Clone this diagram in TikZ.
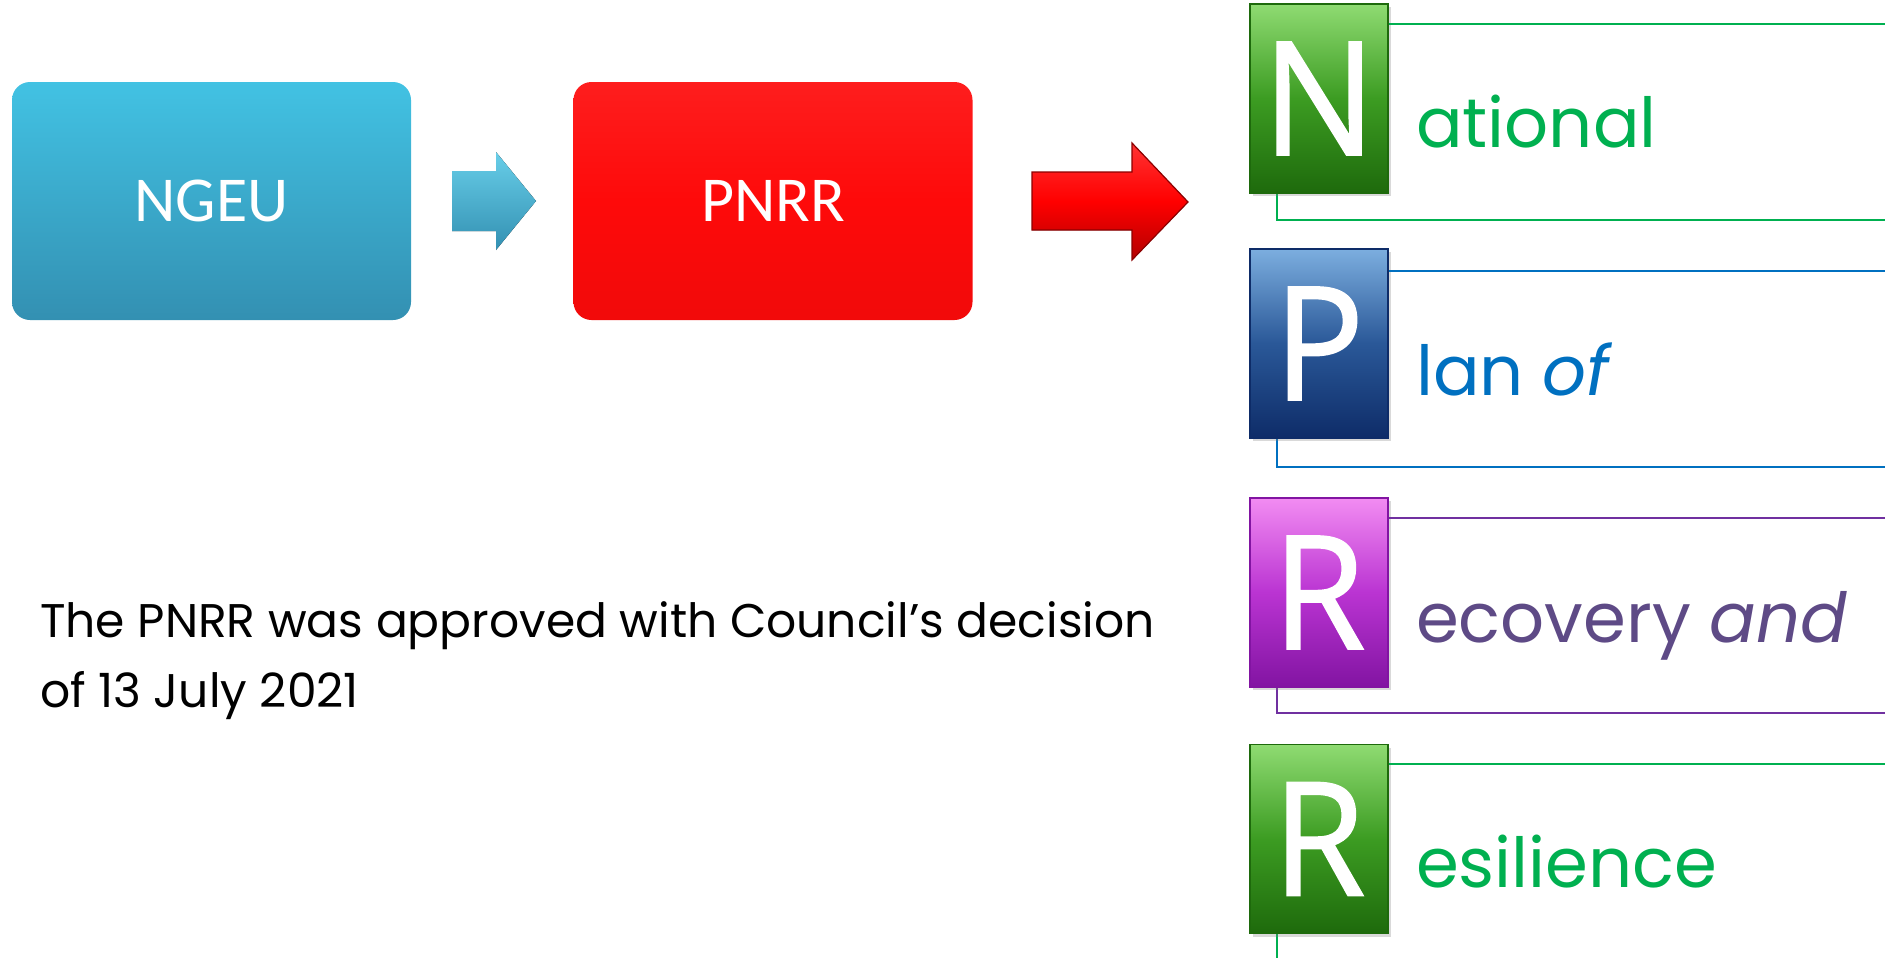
\documentclass[tikz,border=0pt]{standalone}
\usepackage{fontspec}
\usepackage{graphicx}
\setmainfont{Poppins}
\newfontfamily\calib{Carlito}
\newfontfamily\tilefont{Open Sans}[FakeBold=1.2]
\usetikzlibrary{positioning,shadows}

\definecolor{natgreen}{HTML}{00B050}
\definecolor{planblue}{HTML}{0070C0}
\definecolor{recpurple}{HTML}{7030A0}
\definecolor{recword}{HTML}{5E4A86}
\definecolor{ngeutop}{HTML}{42C2E3}
\definecolor{ngeubot}{HTML}{3390B2}
\definecolor{pnrrred}{HTML}{FE0A0A}
\definecolor{gtop}{HTML}{8FDB72}
\definecolor{gmid}{HTML}{3C9C22}
\definecolor{gbot}{HTML}{1E6A0C}
\definecolor{btop}{HTML}{7CAEDF}
\definecolor{bmid}{HTML}{2A5898}
\definecolor{bbot}{HTML}{0E2C68}
\definecolor{ptop}{HTML}{F28CF2}
\definecolor{pmid}{HTML}{BA34D2}
\definecolor{pbot}{HTML}{8214A2}

\begin{document}
\begin{tikzpicture}[x=0.5pt,y=-0.5pt,
    box/.style={rounded corners=9pt, minimum width=199.5pt, minimum height=119pt, text=white, font=\calib\fontsize{32}{38}\selectfont},
    tile/.style n args={3}{draw=#3, line width=0.6pt, top color=#1, bottom color=#3, middle color=#2, minimum width=69pt, minimum height=94.5pt, inner sep=0pt, text=white, font=\tilefont\fontsize{79}{90}\selectfont, drop shadow={opacity=0.3, shadow xshift=1.5pt, shadow yshift=-1.5pt}},
    word/.style={anchor=base west, font=\fontsize{34.5}{42}\selectfont},
    rule/.style={line width=1pt}]
    \useasboundingbox (0,0) rectangle (1885,958);

    % the two funds
    \node[box, top color=ngeutop, bottom color=ngeubot] (ngeu) at (211.5,201) {NGEU};
    \node[box, top color=pnrrred!92!white, bottom color=pnrrred!95!black, middle color=pnrrred] (pnrr) at (773,201) {PNRR};

    \fill[top color=ngeutop!80!white, bottom color=ngeubot] (452,171) -- (496,171) -- (496,152) -- (536,201) -- (496,250) -- (496,231) -- (452,231) -- cycle;
    \fill[top color=red!80!white, bottom color=red!70!black, middle color=red, draw=red!55!black, line width=0.6pt] (1032,172) -- (1132,172) -- (1132,143) -- (1188,202) -- (1132,260) -- (1132,230) -- (1032,230) -- cycle;

    % note
    \node[anchor=base west, font=\fontsize{23.6}{35}\selectfont] (note1) at (33,637) {The PNRR was approved with Council’s decision};
    \node[anchor=base west, font=\fontsize{23.6}{35}\selectfont] (note2) at (33,707) {of 13 July 2021};

    % N
    \coordinate (Ntop) at (1885,24);
    \coordinate (Nbot) at (1885,220);
    \draw[rule, natgreen] (1277,193) |- (Nbot);
    \node[tile={gtop}{gmid}{gbot}] (N) at (1319,98.5) {\raisebox{-1.5pt}{\scalebox{0.95}[1]{N}}};
    \draw[rule, natgreen] (N.east |- Ntop) -- (Ntop);
    \node[word, text=natgreen] (Nword) at (1409,147) {ational};

    % P
    \coordinate (Ptop) at (1885,271);
    \coordinate (Pbot) at (1885,467);
    \draw[rule, planblue] (1277,438) |- (Pbot);
    \node[tile={btop}{bmid}{bbot}] (P) at (1319,343.5) {\raisebox{-1.5pt}{\scalebox{0.95}[1]{P}}};
    \draw[rule, planblue] (P.east |- Ptop) -- (Ptop);
    \node[word, text=planblue] (Pword) at (1409,395) {lan \textit{of}};

    % R
    \coordinate (Rtop) at (1885,518);
    \coordinate (Rbot) at (1885,713);
    \draw[rule, recpurple] (1277,687) |- (Rbot);
    \node[tile={ptop}{pmid}{pbot}] (R) at (1319,592.5) {\raisebox{-1.5pt}{\scalebox{0.95}[1]{R}}};
    \draw[rule, recpurple] (R.east |- Rtop) -- (Rtop);
    \node[word, text=recword] (Rword) at (1409,642) {ecovery \textit{and}};

    % R again
    \coordinate (Stop) at (1885,764);
    \coordinate (Sbot) at (1277,958);
    \draw[rule, natgreen] (1277,933) -- (Sbot);
    \node[tile={gtop}{gmid}{gbot}] (S) at (1319,839) {\raisebox{-1.5pt}{\scalebox{0.95}[1]{R}}};
    \draw[rule, natgreen] (S.east |- Stop) -- (Stop);
    \node[word, text=natgreen] (Sword) at (1409,887) {esilience};
\end{tikzpicture}
\end{document}
